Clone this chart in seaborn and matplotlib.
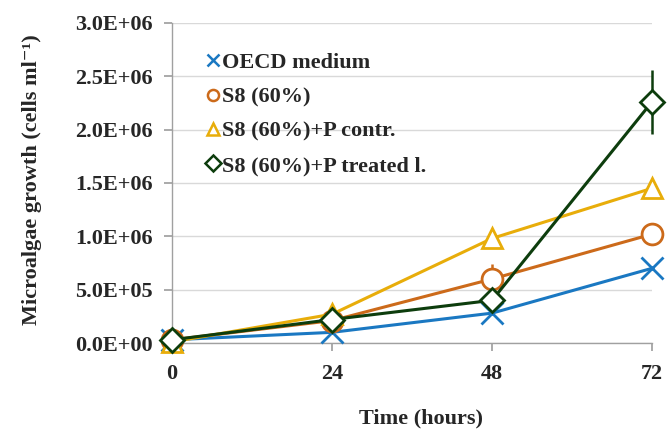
import matplotlib
matplotlib.use("Agg")
import matplotlib.pyplot as plt
import seaborn as sns
import pandas as pd
import numpy as np
from matplotlib.lines import Line2D
from matplotlib.ticker import FuncFormatter

time_h = [0, 24, 48, 72]
series_names = ["OECD medium", "S8 (60%)", "S8 (60%)+P contr.", "S8 (60%)+P treated l."]
oecd = [3.0e4, 1.0e5, 2.8e5, 7.0e5]
s8 = [3.0e4, 2.1e5, 6.0e5, 1.02e6]
s8_pc = [1.0e4, 2.7e5, 9.8e5, 1.45e6]
s8_pt = [3.0e4, 2.2e5, 4.0e5, 2.26e6]
err_oecd = [0, 0, 0, 0]
err_s8 = [0, 0, 1.4e5, 0]
err_pc = [0, 0, 0, 0]
err_pt = [0, 0, 0, 3.0e5]

colors = ["#1a78c2", "#cc6a1a", "#e8ad0a", "#0d3d0d"]
markers = ["x", "o", "^", "D"]
msizes = [16, 15, 15, 12]

sns.set_theme(style="white")
plt.rcParams["font.family"] = ["Liberation Serif", "DejaVu Serif"]
plt.rcParams["font.weight"] = "bold"

fig = plt.figure(figsize=(6.67, 4.32), dpi=100)
ax = fig.add_axes([0.258, 0.206, 0.7195, 0.741])

rows = []
for name, vals in zip(series_names, [oecd, s8, s8_pc, s8_pt]):
    for t, v in zip(time_h, vals):
        rows.append({"Time": t, "Value": v, "Series": name})
df = pd.DataFrame(rows)

errs = [err_oecd, err_s8, err_pc, err_pt]
for i, name in enumerate(series_names):
    sub = df[df["Series"] == name]
    e = np.array(errs[i])
    mask = e > 0
    if mask.any():
        ax.errorbar(sub["Time"].values[mask], sub["Value"].values[mask], yerr=e[mask],
                    fmt="none", ecolor=colors[i], elinewidth=1.8, capsize=0, zorder=2 + i,
                    clip_on=False)
    sns.lineplot(data=sub, x="Time", y="Value", ax=ax, color=colors[i], linewidth=2.2,
                 marker=markers[i], markersize=msizes[i],
                 markerfacecolor="white" if markers[i] != "x" else colors[i],
                 markeredgecolor=colors[i], markeredgewidth=2.0, zorder=3 + i,
                 legend=False, clip_on=False)

ax.set_xlim(0, 72)
ax.set_ylim(0, 3.0e6)
ax.set_xticks(time_h)
ax.set_yticks(np.arange(0, 3.01e6, 5e5))
ax.yaxis.set_major_formatter(FuncFormatter(lambda v, p: "{:.1E}".format(v)))
ax.grid(axis="y", color="#d9d9d9", linewidth=1)
ax.grid(axis="x", visible=False)
for s in ["top", "right"]:
    ax.spines[s].set_visible(False)
for s in ["left", "bottom"]:
    ax.spines[s].set_color("#a0a0a0")
    ax.spines[s].set_linewidth(1)
ax.tick_params(axis="x", which="major", direction="out", length=6, color="#a0a0a0",
               labelsize=16, pad=9, bottom=True)
ax.tick_params(axis="y", which="major", direction="out", length=6, color="#a0a0a0",
               labelsize=16, pad=8, left=True)
for lab in ax.get_xticklabels() + ax.get_yticklabels():
    lab.set_fontweight("bold")
ax.set_xlabel("Time (hours)", fontsize=16, fontweight="bold")
ax.xaxis.set_label_coords(0.518, -0.205)
ax.set_ylabel("Microalgae growth (cells ml\u207b\u00b9)", fontsize=16, fontweight="bold")
ax.yaxis.set_label_coords(-0.272, 0.51)

handles = [Line2D([], [], linestyle="none", marker=markers[i], markersize=8,
                  markerfacecolor="white" if markers[i] != "x" else colors[i],
                  markeredgecolor=colors[i], markeredgewidth=1.8) for i in range(4)]
leg = ax.legend(handles, series_names, loc="upper left", bbox_to_anchor=(0.03, 0.97),
                frameon=False, handlelength=0.6, handletextpad=0.1, labelspacing=0.62,
                prop={"family": "Liberation Serif", "weight": "bold", "size": 16})

fig.savefig("out.png", dpi=100)
